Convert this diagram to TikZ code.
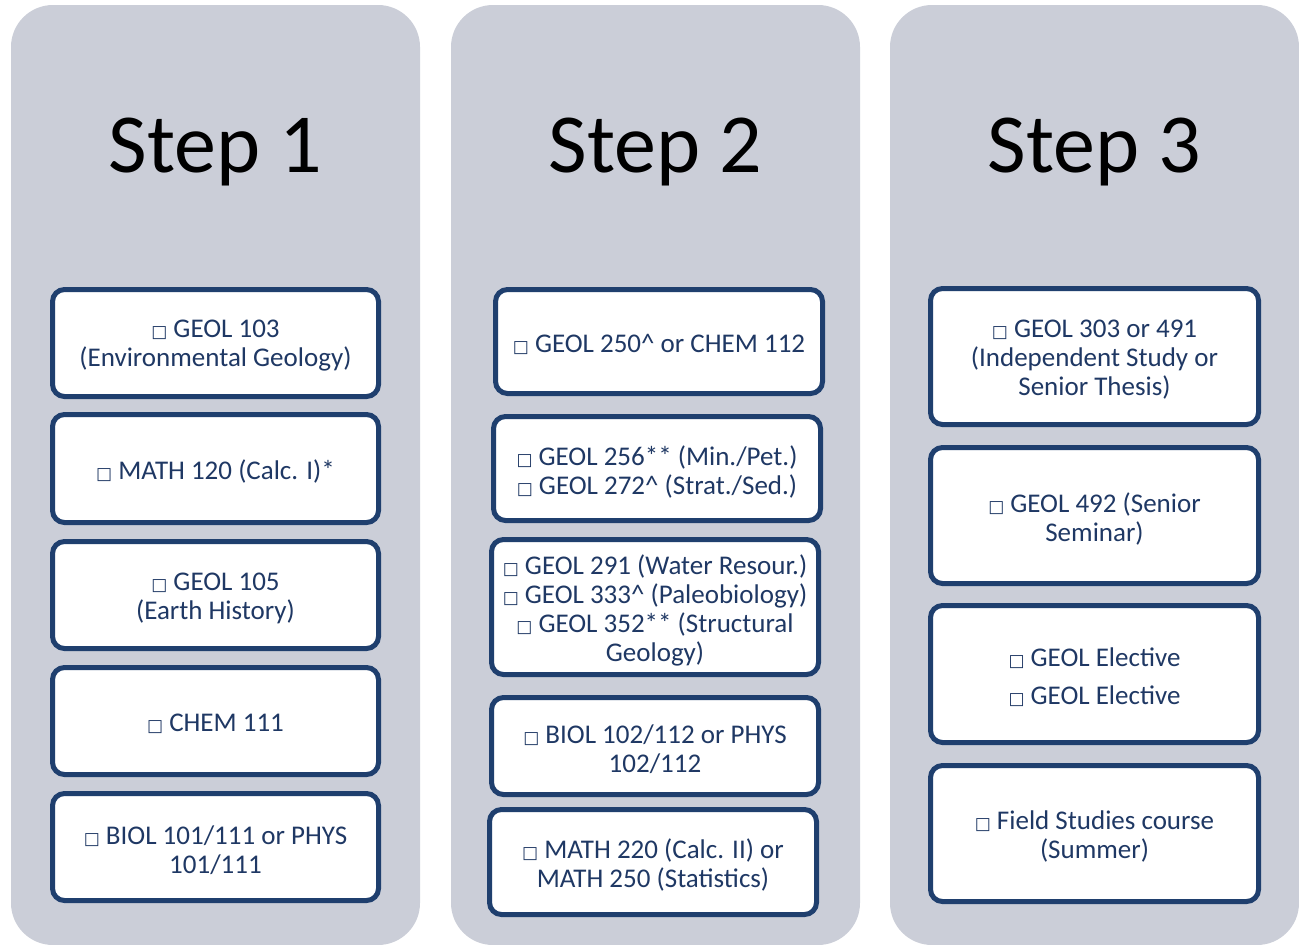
\documentclass[tikz,border=0pt]{standalone}
\usepackage{fontspec}
\setmainfont{Carlito}
\newfontfamily\symfont{DejaVu Sans}
\usetikzlibrary{positioning}
\definecolor{colbg}{HTML}{CBCED8}
\definecolor{navy}{HTML}{1F3864}
\definecolor{edge}{HTML}{1F3F6E}
\newcommand{\cb}{{\symfont\fontsize{17pt}{17pt}\selectfont □}}
\tikzset{
  column/.style={fill=colbg, rounded corners=42pt, inner sep=0pt, minimum width=409pt, minimum height=940pt},
  steplabel/.style={font=\fontsize{84pt}{84pt}\selectfont, text=black, anchor=base, inner sep=0pt},
  course/.style={draw=edge, line width=5pt, fill=white, rounded corners=12pt, inner sep=0pt},
  coursetext/.style={text=navy, align=center, inner sep=0pt, yshift=-3pt, font=\fontsize{27pt}{29pt}\selectfont},
}
\newcommand{\course}[6]{% name, x1, y1, x2, y2, text
  \node[course, minimum width={#4-#2-5pt}, minimum height={#5-#3-5pt},
        label={[coursetext]center:#6}] (#1) at ({(#2+#4)/2}, {(#3+#5)/2}) {};}
\begin{document}
\begin{tikzpicture}[x=1pt, y=-1pt]
\useasboundingbox (0,0) rectangle (1299,945);
% columns
\node[column] (col1) at (215.5, 475) {};
\node[column] (col2) at (655.5, 475) {};
\node[column] (col3) at (1094.5, 475) {};
\node[steplabel] (s1) at (215.5, 172) {Step 1};
\node[steplabel] (s2) at (655.5, 172) {Step 2};
\node[steplabel] (s3) at (1094.5, 172) {Step 3};
% column 1
\course{a1}{50}{287}{381}{399}{\cb\ GEOL 103\\(Environmental Geology)}
\course{a2}{50}{412}{381}{525}{\cb\ MATH 120 (Calc. I)*}
\course{a3}{50}{539}{381}{651}{\cb\ GEOL 105\\(Earth History)}
\course{a4}{50}{665}{381}{777}{\cb\ CHEM 111}
\course{a5}{50}{791}{381}{903}{\cb\ BIOL 101/111 or PHYS\\101/111}
% column 2
\course{b1}{493}{287}{825}{396}{\cb\ GEOL 250\^{} or CHEM 112}
\course{b2}{491}{414}{823}{523}{\cb\ GEOL 256** (Min./Pet.)\\\cb\ GEOL 272\^{} (Strat./Sed.)}
\course{b3}{489}{537}{821}{677}{\cb\ GEOL 291 (Water Resour.)\\\cb\ GEOL 333\^{} (Paleobiology)\\\cb\ GEOL 352** (Structural\\Geology)}
\course{b4}{489}{695}{821}{797}{\cb\ BIOL 102/112 or PHYS\\102/112}
\course{b5}{487}{807}{819}{917}{\cb\ MATH 220 (Calc. II) or\\MATH 250 (Statistics)}
% column 3
\course{c1}{928}{286}{1261}{427}{\cb\ GEOL 303 or 491\\(Independent Study or\\Senior Thesis)}
\course{c2}{928}{445}{1261}{586}{\cb\ GEOL 492 (Senior\\Seminar)}
\course{c3}{928}{603}{1261}{745}{\cb\ GEOL Elective\\[9pt]\cb\ GEOL Elective}
\course{c4}{928}{763}{1261}{904}{\cb\ Field Studies course\\(Summer)}
\end{tikzpicture}
\end{document}
